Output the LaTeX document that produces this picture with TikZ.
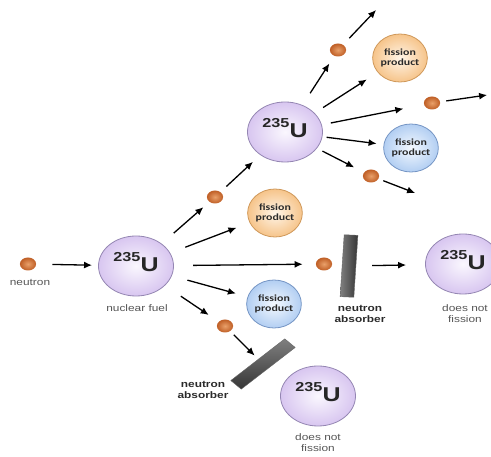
\documentclass[tikz,border=0pt]{standalone}
\usepackage{fontspec}
\setmainfont{Liberation Sans}
\newfontfamily\fpfont{Carlito}
\usetikzlibrary{arrows.meta,shapes.geometric}
\definecolor{ulav}{HTML}{D8C6F0}
\definecolor{ulavin}{HTML}{FAF7FE}
\definecolor{uedge}{HTML}{9486B2}
\definecolor{fporange}{HTML}{F6C48A}
\definecolor{fporangein}{HTML}{FFF5E8}
\definecolor{fporangeedge}{HTML}{CF985A}
\definecolor{fpblue}{HTML}{B2CEF2}
\definecolor{fpbluein}{HTML}{F4F9FF}
\definecolor{fpblueedge}{HTML}{7595C4}
\definecolor{nlight}{HTML}{E9A06A}
\definecolor{nbrown}{HTML}{BF5E25}
\definecolor{absgrey}{HTML}{363636}
\definecolor{notegrey}{HTML}{555555}
\definecolor{textdark}{HTML}{2A2A2A}
\newcommand{\uranium}{{\fontsize{13}{13}\selectfont\raisebox{10pt}{235}}{\fontsize{20}{20}\selectfont U}}

\begin{document}
\begin{tikzpicture}[
  x=0.8pt, y=-1pt, xscale=1.25, transform shape,
  fuel/.style={circle, minimum size=60pt, inner sep=0pt, draw=uedge, line width=0.8pt,
               shading=radial, inner color=ulavin, outer color=ulav,
               text depth=9pt, font=\bfseries, text=black!85},
  product/.style={ellipse, minimum width=43pt, minimum height=48pt, inner sep=0pt,
                  line width=0.8pt, align=center, text=textdark,
                  font=\fpfont\bfseries\fontsize{9.5}{10.5}\selectfont},
  orangefp/.style={product, draw=fporangeedge, shading=radial,
                   inner color=fporangein, outer color=fporange},
  bluefp/.style={product, draw=fpblueedge, shading=radial,
                 inner color=fpbluein, outer color=fpblue},
  neutron/.style={circle, minimum size=13pt, inner sep=0pt,
                  shading=radial, inner color=nlight, outer color=nbrown},
  absorber/.style={rectangle, inner sep=0pt, draw=black!60, line width=0.4pt},
  fuelnote/.style={font=\fontsize{9.5}{11}\selectfont, text=notegrey, align=center},
  absnote/.style={font=\bfseries\fontsize{9.5}{10.5}\selectfont, text=textdark, align=center},
  flow/.style 2 args={-{Latex[length=8pt,width=7pt]}, line width=1.3pt,
                      shorten <=#1pt, shorten >=#2pt},
]
\useasboundingbox (0,0) rectangle (491,457);

\node[neutron] (n0) at (28,264) {};
\node[fuel] (u1) at (136,266) {\uranium};
\node[neutron] (n1) at (215,197) {};
\node[orangefp] (fp1) at (275,213) {fission\\product};
\node[neutron] (n2) at (324,264) {};
\node[bluefp] (fp2) at (274,304) {fission\\product};
\node[neutron] (n3) at (225,326) {};

\node[fuel] (u2) at (285,132) {\uranium};
\node[neutron] (n4) at (338,50) {};
\node[orangefp] (fp3) at (400,58) {fission\\product};
\node[neutron] (n5) at (432,103) {};
\node[bluefp] (fp4) at (411,148) {fission\\product};
\node[neutron] (n6) at (371,176) {};

\node[absorber, minimum width=11pt, minimum height=62pt, rotate=-3,
      shading=axis, left color=black!50, right color=absgrey] (ab1) at (349,266) {};
\node[fuel] (u3) at (463,264) {\uranium};
\node[absorber, minimum width=60pt, minimum height=12pt, rotate=44,
      shading=axis, top color=black!50, bottom color=absgrey] (ab2) at (263,364) {};
\node[fuel] (u4) at (318,396) {\uranium};

\node[fuelnote] (lbn0) at (30,282) {neutron};
\node[fuelnote] (lbu1) at (137,308) {nuclear fuel};
\node[absnote] (lbab1) at (360,314) {neutron\\absorber};
\node[fuelnote] (lbu3) at (465,314) {does not\\fission};
\node[absnote] (lbab2) at (203,390) {neutron\\absorber};
\node[fuelnote] (lbu4) at (318,443) {does not\\fission};

\coordinate (off1) at (376,10);
\coordinate (off2) at (487,95);
\coordinate (off3) at (415,193);

\foreach \a/\b/\sa/\sb in {n0/u1/16/6, u1/n1/16/8, u1/fp1/16/14, u1/n2/19/13,
    u1/fp2/16/12, u1/n3/19/12, n1/u2/8/10, u2/n4/14/9, n4/off1/9/0,
    u2/fp3/10/13, u2/n5/9/21, n5/off2/6/0, u2/fp4/4/7, u2/n6/6/11,
    n6/off3/5/0, ab1/u3/16/19, n3/ab2/5/5}
  { \draw[flow={\sa}{\sb}] (\a) -- (\b); }
\end{tikzpicture}
\end{document}
